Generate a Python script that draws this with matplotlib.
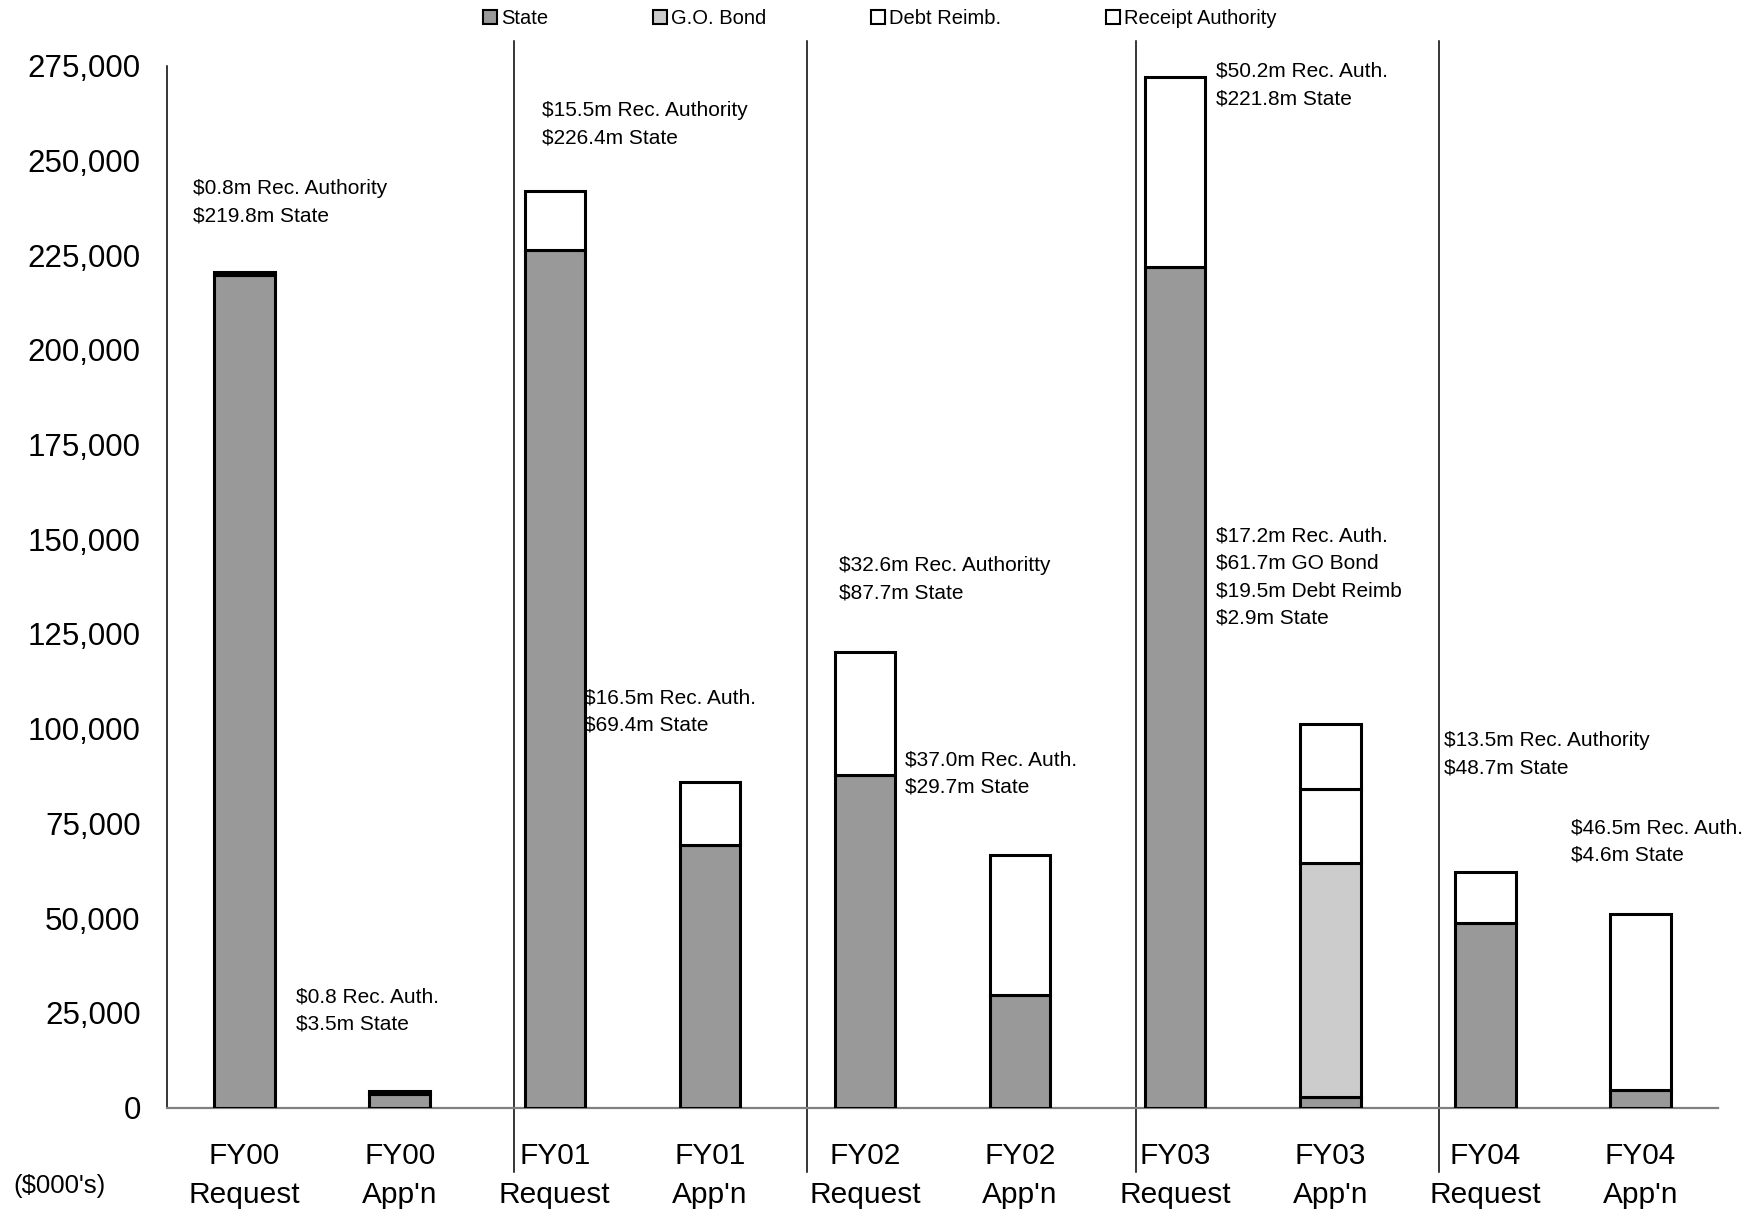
import matplotlib
matplotlib.use('Agg')
import matplotlib.pyplot as plt
from matplotlib.patches import Patch
import numpy as np

plt.rcParams['font.family'] = ['Liberation Sans', 'DejaVu Sans']

# categories and stacked values ($000's)
categories = ['FY00\nRequest', "FY00\nApp'n", 'FY01\nRequest', "FY01\nApp'n",
              'FY02\nRequest', "FY02\nApp'n", 'FY03\nRequest', "FY03\nApp'n",
              'FY04\nRequest', "FY04\nApp'n"]
state = [219800, 3500, 226400, 69400, 87700, 29700, 221800, 2900, 48700, 4600]
go_bond = [0, 0, 0, 0, 0, 0, 0, 61700, 0, 0]
debt_reimb = [0, 0, 0, 0, 0, 0, 0, 19500, 0, 0]
receipt_auth = [800, 800, 15500, 16500, 32600, 37000, 50200, 17200, 13500, 46500]

series_names = ['State', 'G.O. Bond', 'Debt Reimb.', 'Receipt Authority']
series_colors = ['#999999', '#cccccc', '#ffffff', '#ffffff']

notes = [
    '$0.8m Rec. Authority\n$219.8m State',
    '$0.8 Rec. Auth.\n$3.5m State',
    '$15.5m Rec. Authority\n$226.4m State',
    '$16.5m Rec. Auth.\n$69.4m State',
    '$32.6m Rec. Authoritty\n$87.7m State',
    '$37.0m Rec. Auth.\n$29.7m State',
    '$50.2m Rec. Auth.\n$221.8m State',
    '$17.2m Rec. Auth.\n$61.7m GO Bond\n$19.5m Debt Reimb\n$2.9m State',
    '$13.5m Rec. Authority\n$48.7m State',
    '$46.5m Rec. Auth.\n$4.6m State',
]
# where each note's first line sits (category units, value)
note_pos = [(-0.33, 245000), (0.33, 31800), (1.92, 265700), (2.19, 110700),
            (3.83, 145600), (4.26, 94300), (6.26, 276000), (6.26, 153300),
            (7.73, 99400), (8.55, 76300)]

separators = [1.736, 3.624, 5.75, 7.70]

fig = plt.figure(figsize=(17.6, 12.14), dpi=100)
ax = fig.add_axes([0.0949, 0.0877, 0.8813, 0.8583])

x = np.arange(len(categories))
bottom = np.zeros(len(categories))
layers = [state, go_bond, debt_reimb, receipt_auth]
for vals, col in zip(layers, series_colors):
    vals = np.array(vals, dtype=float)
    mask = vals > 0
    ax.bar(x[mask], vals[mask], bottom=bottom[mask], width=0.39,
           color=col, edgecolor='black', linewidth=2.2, zorder=3)
    bottom += vals

ax.set_xlim(-0.5, 9.5)
ax.set_ylim(0, 275000)
ax.set_yticks(np.arange(0, 275001, 25000))
ax.set_yticklabels([f'{v:,}' for v in range(0, 275001, 25000)], fontsize=22.5)
ax.set_xticks(x)
ax.set_xticklabels(categories, fontsize=21.5, linespacing=1.48)
ax.tick_params(axis='both', length=0)
ax.tick_params(axis='x', pad=25)
ax.tick_params(axis='y', pad=19)

for s in ['top', 'right']:
    ax.spines[s].set_visible(False)
ax.spines['left'].set_linewidth(1.1)
ax.spines['bottom'].set_color('#808080')
ax.spines['bottom'].set_linewidth(1.6)

for sx in separators:
    ax.axvline(sx, ymin=-0.062, ymax=1.024, color='black', linewidth=1.1,
               clip_on=False, zorder=2)

for txt, (nx, ny) in zip(notes, note_pos):
    ax.text(nx, ny, txt, fontsize=15, ha='left', va='top', linespacing=1.55,
            transform=ax.transData, zorder=4)

fig.text(0.0074, 0.023, "($000's)", fontsize=18.5, ha='left', va='center')

handles = [Patch(facecolor=c, edgecolor='black', linewidth=1.5) for c in series_colors]
fig.legend(handles, series_names, loc='center', bbox_to_anchor=(0.5, 0.985),
           ncol=4, frameon=False, fontsize=14.5, handlelength=0.7,
           handleheight=0.7, handletextpad=0.2, columnspacing=5.2)

fig.savefig('out.png', dpi=100)
